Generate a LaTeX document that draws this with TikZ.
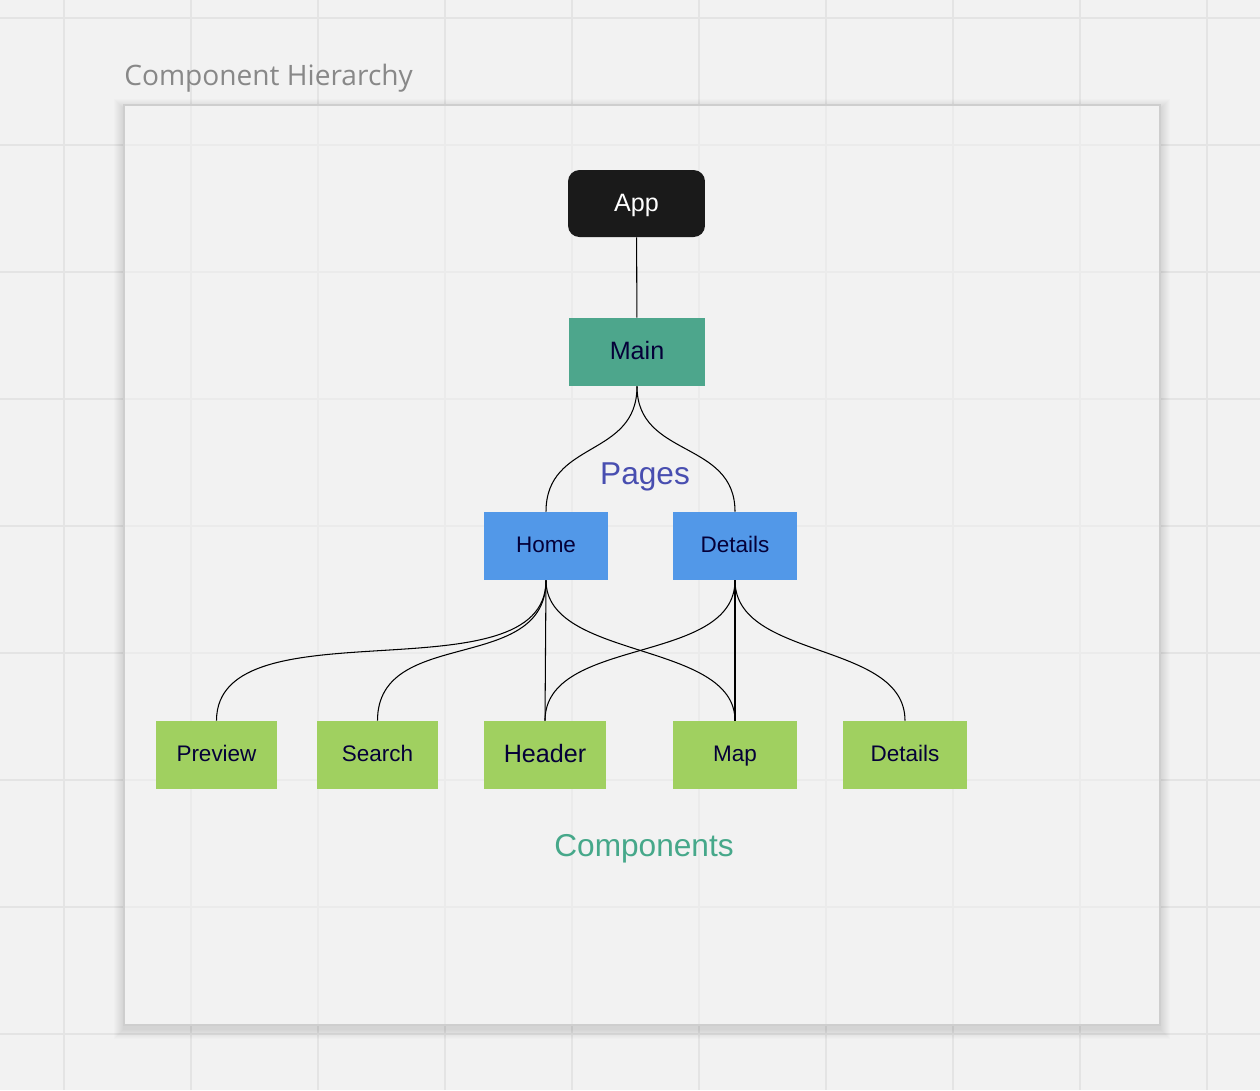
\documentclass[tikz,border=0pt]{standalone}
\usepackage{fontspec}
\setmainfont{Liberation Sans}
\newfontfamily\titlefont{Open Sans}
\usetikzlibrary{calc}
\definecolor{canvas}{RGB}{242,242,242}
\definecolor{gridline}{RGB}{228,228,228}
\definecolor{framefill}{RGB}{242,242,242}
\definecolor{frameline}{RGB}{206,206,206}
\definecolor{titlegray}{RGB}{136,136,136}
\definecolor{appblack}{RGB}{26,26,26}
\definecolor{mainteal}{RGB}{77,166,140}
\definecolor{pageblue}{RGB}{82,152,232}
\definecolor{compgreen}{RGB}{160,208,96}
\definecolor{inknavy}{RGB}{5,0,56}
\definecolor{pageslabel}{RGB}{72,78,176}
\definecolor{compslabel}{RGB}{70,168,138}
\tikzset{
  cblock/.style={
    rectangle, draw=none, inner sep=0pt, text=inknavy,
    text height=9.5pt, text depth=1.7pt,
    minimum height=1.36cm, font=\fontsize{12.8}{14}\selectfont
  },
  bigtext/.style={font=\fontsize{14.3}{16}\selectfont, text height=10.5pt, text depth=1.9pt},
  link/.style={draw=black, line width=0.6pt},
  curvelink/.style={link, to path={.. controls ($(\tikztostart)+(0,-#1)$)
      and ($(\tikztotarget)+(0,#1)$) .. (\tikztotarget)}}
}

\begin{document}
\begin{tikzpicture}[x=0.02cm, y=0.02cm]
        % canvas and grid
        \fill[canvas] (0,0) rectangle (1260,-1090);
        \useasboundingbox (0,0) rectangle (1260,-1090);
        \foreach \gx in {64,191,...,1207}
          \draw[gridline, line width=1pt] (\gx,0) -- (\gx,-1090);
        \foreach \gy in {18,145,...,1034}
          \draw[gridline, line width=1pt] (0,-\gy) -- (1260,-\gy);
        % frame with soft shadow
        \foreach \s in {1,...,10}
          \fill[black, opacity=0.01] (124-\s,-105+\s-4) rectangle (1160+\s,-1025-\s-4);
        \fill[framefill] (124,-105) rectangle (1160,-1025);
        \begin{scope}
          \clip (124,-105) rectangle (1160,-1025);
          \foreach \gx in {64,191,...,1207}
            \draw[gridline!50!framefill, line width=1pt] (\gx,0) -- (\gx,-1090);
          \foreach \gy in {18,145,...,1034}
            \draw[gridline!50!framefill, line width=1pt] (0,-\gy) -- (1260,-\gy);
        \end{scope}
        \draw[frameline, line width=1.1pt] (124,-105) rectangle (1160,-1025);
        \node[anchor=base west, inner sep=0pt, text=titlegray,
              font=\titlefont\fontsize{16}{18}\selectfont] (title) at (124,-85) {Component Hierarchy};

        \node[cblock, bigtext, fill=appblack, text=white, rounded corners=6.5pt,
              minimum width=2.74cm, minimum height=1.34cm] (app)      at (636.5,-203.5) {App};
        \node[cblock, bigtext, fill=mainteal, minimum width=2.72cm] (main)     at (637,-352) {Main};
        \node[cblock, fill=pageblue, minimum width=2.48cm]          (home)     at (546,-546) {Home};
        \node[cblock, fill=pageblue, minimum width=2.48cm]          (details)  at (735,-546) {Details};
        \node[cblock, fill=compgreen, minimum width=2.42cm]         (preview)  at (216.5,-755) {Preview};
        \node[cblock, fill=compgreen, minimum width=2.42cm]         (search)   at (377.5,-755) {Search};
        \node[cblock, bigtext, fill=compgreen, minimum width=2.44cm] (header)  at (545,-755) {Header};
        \node[cblock, fill=compgreen, minimum width=2.48cm]         (map)      at (735,-755) {Map};
        \node[cblock, fill=compgreen, minimum width=2.48cm]         (cdetails) at (905,-755) {Details};

        \node[text=pageslabel, font=\fontsize{18}{20}\selectfont] (pages) at (645,-477) {Pages};
        \node[text=compslabel, font=\fontsize{18}{20}\selectfont] (comps) at (644,-849) {Components};

        \draw[link] (app) -- (main);
        \foreach \c in {home,details}
          \draw[curvelink=72] (main.south) to (\c.north);
        \foreach \c/\h in {preview/120,search/95,map/80}
          \draw[curvelink=\h] (home.south) to (\c.north);
        \draw[link] (home.south) -- (header.north);
        \foreach \c/\h in {header/85,cdetails/80}
          \draw[curvelink=\h] (details.south) to (\c.north);
        \draw[link] (details.south) -- (map.north);
      \end{tikzpicture}
\end{document}
